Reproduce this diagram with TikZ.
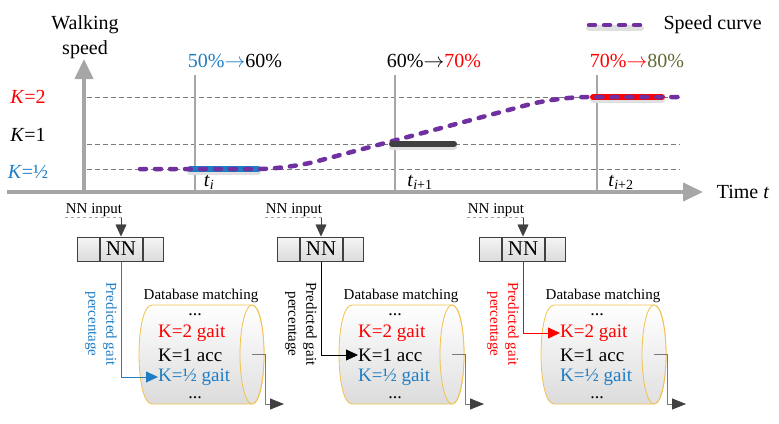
\documentclass[tikz,border=0pt]{standalone}
\usepackage{fontspec}
\setmainfont{Liberation Serif}
\usetikzlibrary{arrows.meta,positioning}
\definecolor{SpdPurple}{HTML}{7030A0}
\definecolor{SpdBlue}{HTML}{1F7DC4}
\definecolor{SpdRed}{HTML}{FF0000}
\definecolor{SpdOlive}{HTML}{5F6B35}
\definecolor{SpdGray}{HTML}{A6A6A6}
\definecolor{SpdDark}{HTML}{404040}
\definecolor{SpdGold}{HTML}{F2C14E}
\tikzset{
  big/.style={font=\fontsize{20}{24}\selectfont},
  mid/.style={font=\fontsize{15}{18}\selectfont},
  axisline/.style={draw=SpdGray,line width=4pt,-{Triangle[length=20pt,width=18pt]}},
  levelline/.style={draw=SpdDark!70,line width=0.7pt,dash pattern=on 5pt off 3pt},
  markline/.style={draw=SpdGray,line width=1.2pt},
  speedcurve/.style={draw=SpdPurple,line width=4.5pt,line cap=round,dash pattern=on 6pt off 9pt},
  hilite/.style={line width=6pt,line cap=round},
  shadowline/.style={draw=black!12,line width=6pt,line cap=round},
  cell/.style={draw=SpdDark,line width=1pt,top color=black!4,bottom color=black!14,inner sep=0pt,minimum height=24pt},
  tip/.style={-{Triangle[length=12pt,width=11pt]}},
  dbline/.style={font=\fontsize{19}{21}\selectfont,anchor=west,inner sep=0pt},
  dots/.style={font=\fontsize{18}{20}\selectfont,inner sep=0pt},
}
\newcommand{\arr}{\ensuremath{\rightarrow}}
\begin{document}
\begin{tikzpicture}[x=1pt,y=-1pt]
  \useasboundingbox (0,0) rectangle (779,423);
  % speed levels and time marks
  \foreach \y in {97,144,169}
    \draw[levelline] (87,\y) -- (680,\y);
  \foreach \x in {195,395,597}
    \draw[markline] (\x,75) -- (\x,192);
  \draw[axisline] (7,192) -- (703,192);
  \draw[axisline] (84,194) -- (84,59);

  \node[big,text=SpdRed] (k2lab) at (28,97) {\textit{K}=2};
  \node[big] (k1lab) at (28,135) {\textit{K}=1};
  \node[big,text=SpdBlue] (khlab) at (28,172) {\textit{K}=½};
  \node[font=\fontsize{20}{25}\selectfont,align=center] (ylab) at (85,37) {Walking\\speed};
  \node[big] (xlab) at (743,192) {Time \textit{t}};

  \node[big] (pct1) at (235,61) {\textcolor{SpdBlue}{50\%\arr}60\%};
  \node[big] (pct2) at (434,61) {60\%\arr\textcolor{SpdRed}{70\%}};
  \node[big] (pct3) at (637,61) {\textcolor{SpdRed}{70\%\arr}\textcolor{SpdOlive}{80\%}};
  \node[big] (ti0) at (209,182) {\textit{t}\textsubscript{\textit{i}}};
  \node[big] (ti1) at (420,182) {\textit{t}\textsubscript{\textit{i}+1}};
  \node[big] (ti2) at (621,182) {\textit{t}\textsubscript{\textit{i}+2}};

  % legend
  \draw[shadowline] (589,28) -- (641,28);
  \draw[speedcurve] (589,25) -- (641,25);
  \node[big,anchor=west] (leg) at (660,25) {Speed curve};

  % speed curve with the matched parts
  \draw[shadowline] (190,172) -- (258,172);
  \draw[shadowline] (593,100) -- (662,100);
  \draw[shadowline] (392,147) -- (454,147);
  \draw[hilite,SpdBlue] (190,169) -- (258,169);
  \draw[hilite,SpdRed] (593,97) -- (662,97);
  \draw[speedcurve,rounded corners=30pt] (140,169) -- (288,169) -- (557,97) -- (680,97);
  \draw[hilite,SpdDark] (392,144) -- (454,144);

  % network and database per step
  \foreach \i/\dx/\col/\tgt in {1/0/SpdBlue/kh,2/200/black/ko,3/402/SpdRed/kt}{
    \node[mid,inner sep=1pt] (inp\i) at (94+\dx,210) {NN input};
    \draw[SpdGray,dashed,line width=0.6pt] (inp\i.south west) -- (inp\i.south east);
    \node[cell,minimum width=42pt,font=\fontsize{21}{24}\selectfont] (nn\i) at (121+\dx,249) {NN};
    \node[cell,minimum width=22pt,left=0pt of nn\i] (nnl\i) {};
    \node[cell,minimum width=20pt,right=0pt of nn\i] (nnr\i) {};
    \draw[tip,draw=SpdDark] (nn\i.north |- inp\i.south) -- (nn\i.north);

    \draw[SpdGold,line width=0.8pt,top color=white,bottom color=black!14]
      (152+\dx,305) -- (252+\dx,305) .. controls (268+\dx,305) and (268+\dx,404) .. (252+\dx,404)
      -- (152+\dx,404) .. controls (134.7+\dx,404) and (134.7+\dx,305) .. (152+\dx,305) -- cycle;
    \draw[SpdGold,line width=0.8pt,top color=white,bottom color=black!12]
      (252+\dx,354.5) ellipse [x radius=12,y radius=49.5];
    \coordinate (dbr\i) at (252+\dx,354.5);

    \node[mid,inner sep=0pt] (dbm\i) at (201+\dx,296) {Database matching};
    \node[dots] (dta\i) at (195+\dx,315) {...};
    \node[dbline,text=SpdRed] (kt\i) at (158+\dx,333) {K=2 gait};
    \node[dbline] (ko\i) at (158+\dx,355) {K=1 acc};
    \node[dbline,text=SpdBlue] (kh\i) at (158+\dx,377) {K=½ gait};
    \node[dots] (dtb\i) at (195+\dx,398) {...};

    \node[mid,rotate=-90,align=center,text=\col] (pg\i) at (101+\dx,324) {Predicted gait\\percentage};
    \draw[\col,line width=0.8pt,tip] (nn\i.south) |- (\tgt\i.west);
    \coordinate (out\i) at (284+\dx,404);
    \draw[draw=SpdDark!70,line width=0.8pt,-{Triangle[length=14pt,width=11pt,color=SpdDark]}]
      (dbr\i) -- ++(13,0) |- (out\i);
  }
\end{tikzpicture}
\end{document}
